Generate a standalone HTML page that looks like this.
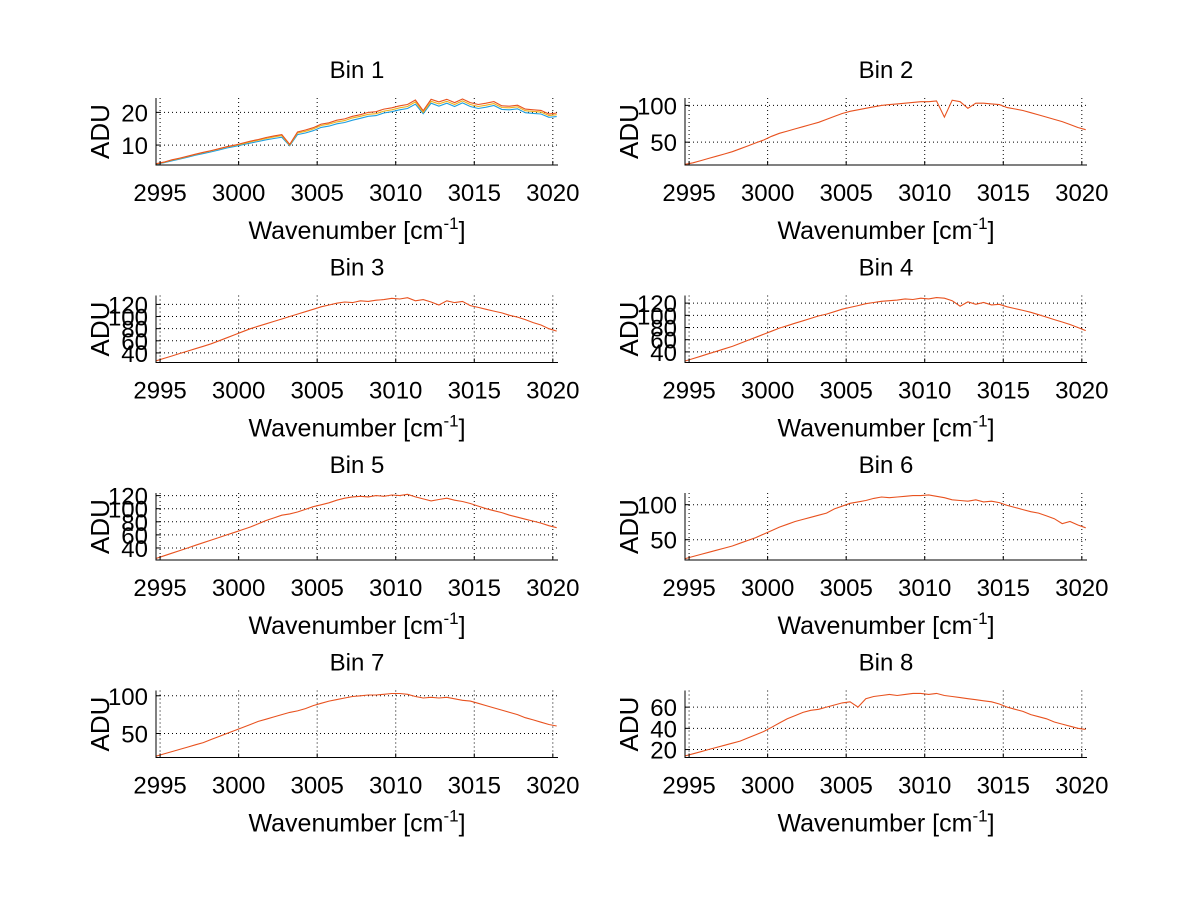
<!DOCTYPE html>
<html><head><meta charset="utf-8"><style>
body{margin:0;background:#fff;}
svg{display:block;font-family:"Liberation Sans",Arial,sans-serif;}
</style></head><body>
<svg id="fig" width="1200" height="901" viewBox="0 0 1200 901"></svg>
<script>
const xStart = 2994.75, xStep = 0.5;
const xTicks = [2995, 3000, 3005, 3010, 3015, 3020];
const xLim = [2994.74, 3020.33];
const binTitles = ["Bin 1","Bin 2","Bin 3","Bin 4","Bin 5","Bin 6","Bin 7","Bin 8"];
const yLims = [[3.9,24.4],[19,110],[24.2,134.7],[22.6,132.5],[21.6,124],[21,116.7],[18.2,107],[12.5,75.7]];
const yTicks = [[10,20],[50,100],[40,60,80,100,120],[40,60,80,100,120],[40,60,80,100,120],[50,100],[50,100],[20,40,60]];
const bin1Red = [4.3,4.8,5.5,6.0,6.6,7.2,7.8,8.3,8.9,9.5,10.0,10.6,11.2,11.7,12.3,12.8,13.2,10.2,14.0,14.6,15.3,16.4,16.8,17.6,18.0,18.8,19.3,20.0,20.2,21.0,21.4,22.0,22.4,23.8,20.5,24.0,23.2,24.0,23.0,24.1,23.0,22.4,22.8,23.3,22.0,21.9,22.2,21.0,20.8,20.6,19.5,19.8];
const bin1Yellow = [4.2,4.7,5.4,5.9,6.5,7.1,7.7,8.2,8.8,9.4,9.9,10.4,11.0,11.5,12.0,12.5,12.9,10.0,13.7,14.2,14.9,16.0,16.4,17.1,17.5,18.3,18.8,19.4,19.6,20.4,20.8,21.4,21.8,23.2,20.0,23.4,22.6,23.4,22.4,23.5,22.4,21.8,22.2,22.7,21.5,21.4,21.7,20.5,20.3,20.1,19.0,19.3];
const bin1Blue = [4.1,4.6,5.2,5.7,6.3,6.9,7.4,7.9,8.5,9.1,9.6,10.1,10.6,11.1,11.6,12.0,12.4,9.8,13.2,13.7,14.4,15.4,15.8,16.5,16.9,17.6,18.2,18.8,19.0,19.8,20.2,20.8,21.2,22.5,19.6,22.8,21.9,22.8,21.8,22.9,21.8,21.2,21.6,22.1,20.9,20.8,21.1,19.9,19.7,19.5,18.5,18.7];
const bin2 = [20,22,25,28,31,34,37,41,45,49,53,58,62,65,68,71,74,77,81,85,89,92,94,96,98,100,101,102,103,104,105,105,106,84,107,105,96,103,103,102,101,97,95,93,90,87,84,81,78,74,70,67];
const bin3 = [27,31,35,39,43,47,51,55,60,65,70,75,80,84,88,92,96,100,104,108,112,116,119,122,124,123,126,125,127,128,130,129,131,126,128,124,119,126,123,125,118,115,112,109,106,102,99,95,90,86,80,76];
const bin4 = [25,29,33,37,41,45,49,54,59,64,69,74,79,83,87,91,95,99,102,106,110,113,116,119,121,123,124,125,127,126,128,127,129,128,124,115,122,118,121,117,118,114,111,108,105,101,97,93,89,85,80,75];
const bin5 = [24,28,32,36,40,44,48,52,56,60,64,68,72,77,82,86,90,92,95,99,103,106,109,113,116,118,119,118,120,119,121,120,122,118,115,112,114,116,113,111,108,104,100,97,94,90,87,84,81,78,74,71];
const bin6 = [23,26,29,32,35,38,41,45,49,53,58,63,68,72,76,79,82,85,88,94,98,102,104,106,109,111,110,111,112,113,113,114,112,110,107,106,105,107,104,105,103,99,96,93,90,88,84,80,73,76,71,67];
const bin7 = [20,23,26,29,32,35,38,42,46,50,54,58,62,66,69,72,75,78,80,83,87,90,93,95,97,99,100,101,101,102,103,103,102,99,97,98,97,98,96,94,93,90,87,84,81,78,75,71,68,65,62,60];
const bin8 = [14,16,18,20,22,24,26,28,31,34,37,41,45,49,52,55,57,58,60,62,64,65,60,68,70,71,72,71,72,73,73,72,73,71,70,69,68,67,66,65,63,60,58,56,53,51,49,46,44,42,40,39];

const NS = "http://www.w3.org/2000/svg";
const fig = document.getElementById("fig");
function mk(tag, attrs, parent){const e=document.createElementNS(NS,tag);for(const k in attrs)e.setAttribute(k,attrs[k]);(parent||fig).appendChild(e);return e;}

const seriesByBin = [
  [[bin1Blue,"#1f9fe0"],[bin1Yellow,"#edb120"],[bin1Red,"#e8521f"]],
  [[bin2,"#e8521f"]],[[bin3,"#e8521f"]],[[bin4,"#e8521f"]],[[bin5,"#e8521f"]],
  [[bin6,"#e8521f"]],[[bin7,"#e8521f"]],[[bin8,"#e8521f"]]
];
const colLeft = [156, 685], W = 402, H = 67, rowTop = [98, 295.5, 493, 690.5];

for (let b=0;b<8;b++){
  const L = colLeft[b%2], T = rowTop[Math.floor(b/2)];
  const g = mk("g",{});
  
  
  const xs = v => L + (v - xLim[0])/(xLim[1]-xLim[0])*W;
  const ys = v => T + H - (v - yLims[b][0])/(yLims[b][1]-yLims[b][0])*H;
  xTicks.forEach(t=>{const gl=mk("line",{x1:xs(t),x2:xs(t),y1:T,y2:T+H,stroke:"#000","stroke-width":1,"stroke-dasharray":"1,3"},g);
    });
  yTicks[b].forEach(t=>{const gl=mk("line",{x1:L,x2:L+W,y1:ys(t),y2:ys(t),stroke:"#000","stroke-width":1,"stroke-dasharray":"1,3"},g);
    });
  seriesByBin[b].forEach(([arr,col])=>{
    const pts = arr.map((v,i)=>xs(xStart+i*xStep).toFixed(1)+","+ys(v).toFixed(1)).join(" ");
    const pl = mk("polyline",{points:pts,fill:"none",stroke:col,"stroke-width":1.1},g);
    
    
  });
  const ax = mk("path",{d:`M${L},${T} V${T+H} H${L+W}`,fill:"none",stroke:"#000","stroke-width":1},g);
  
  xTicks.forEach(t=>{
    mk("line",{x1:xs(t),x2:xs(t),y1:T+H,y2:T+H-4,stroke:"#000"},g);
    const tx=mk("text",{x:xs(t),y:T+H+36,"text-anchor":"middle","font-size":24},g);tx.textContent=t;
    
  });
  yTicks[b].forEach(t=>{
    mk("line",{x1:L,x2:L+4,y1:ys(t),y2:ys(t),stroke:"#000"},g);
    const tx=mk("text",{x:L-8,y:ys(t)+9,"text-anchor":"end","font-size":24},g);tx.textContent=t;
    
  });
  const ti=mk("text",{x:L+W/2,y:T-20,"text-anchor":"middle","font-size":24},g);ti.textContent=binTitles[b];
  
  const xl=mk("text",{x:L+W/2,y:T+H+74,"text-anchor":"middle","font-size":25},g);
  
  xl.appendChild(document.createTextNode("Wavenumber [cm"));
  const sup=mk("tspan",{dy:-10,"font-size":17},xl);sup.textContent="-1";
  const cl=mk("tspan",{dy:10},xl);cl.textContent="]";
  const yx=L-56, yy=T+H/2;
  const yl=mk("text",{x:yx,y:yy+9,"text-anchor":"middle","font-size":26,transform:`rotate(-90 ${yx} ${yy})`},g);yl.textContent="ADU";
  
}
</script>
</body></html>
